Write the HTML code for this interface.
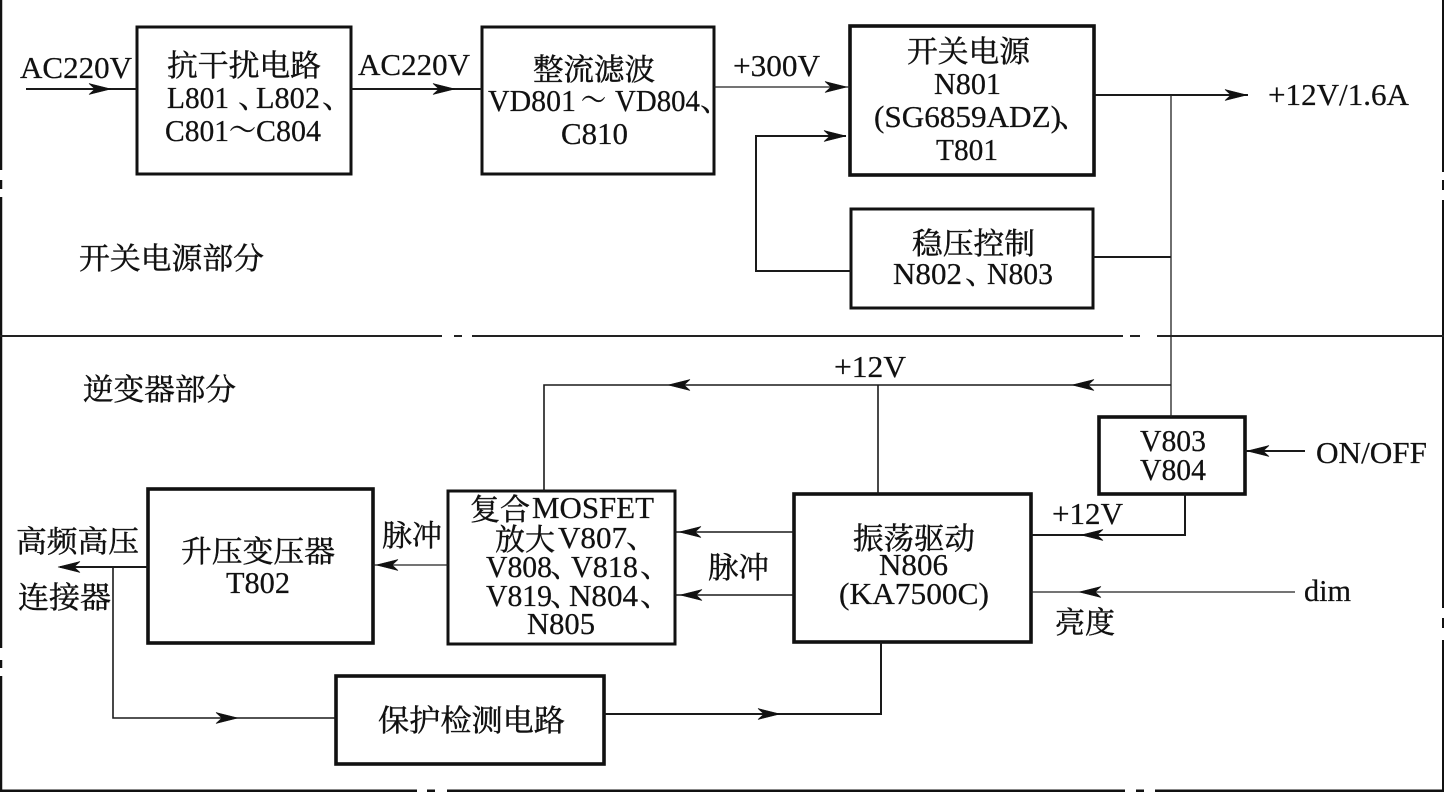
<!DOCTYPE html>
<html lang="zh">
<head>
<meta charset="utf-8">
<style>
html,body{margin:0;padding:0;background:#fff;width:1444px;height:792px;overflow:hidden}
svg{display:block}
text{font-family:"Liberation Serif","Noto Serif CJK SC",serif;font-size:31px;fill:#111;stroke:#111;stroke-width:.25}
.z{font-size:30px;stroke-width:.45}
.b{fill:none;stroke:#111;stroke-width:3}
.h{fill:none;stroke:#111;stroke-width:3.6}
.l{fill:none;stroke:#1a1a1a;stroke-width:2}
.t{fill:none;stroke:#222;stroke-width:1.3}
.a{fill:#111;stroke:#111;stroke-width:.6}
</style>
</head>
<body>
<svg width="1444" height="792" viewBox="0 0 1444 792" xmlns="http://www.w3.org/2000/svg">
<defs><path id="ah" d="M0 0L-22 -5.5L-16 0L-22 5.5Z"/></defs>

<!-- frame -->
<path d="M1 0V170M1 180V189M1 197V648M1 660V668M1 676V792" fill="none" stroke="#111" stroke-width="2.5"/>
<path d="M1443 0V172M1443 180V190M1443 200V608M1443 618V628M1443 640V792" fill="none" stroke="#111" stroke-width="2"/>
<path d="M0 791H417M427 791H435M447 791H1125M1136 791H1144M1155 791H1444" fill="none" stroke="#111" stroke-width="3"/>
<path d="M0 336H442M454 336H462M472 336H1123M1130 336H1140M1157 336H1444" fill="none" stroke="#222" stroke-width="2"/>

<!-- boxes -->
<rect class="b" x="137" y="27" width="214" height="147"/>
<rect class="b" x="482" y="27" width="232" height="147"/>
<rect class="h" x="850" y="26" width="244" height="149"/>
<rect class="b" x="851" y="209" width="242" height="99"/>
<rect class="h" x="1099" y="417" width="146" height="77"/>
<rect class="h" x="794" y="494" width="237" height="148"/>
<rect class="b" x="448" y="491" width="227" height="153"/>
<rect class="h" x="148" y="489" width="225" height="154"/>
<rect class="h" x="336" y="676" width="268" height="88"/>

<!-- connectors -->
<path class="l" d="M26 89H137M351 89H482"/>
<path class="t" d="M714 87H850"/>
<path class="l" d="M851 271H756V136H846"/>
<path class="l" d="M1094 95H1248M1093 257H1171"/>
<path class="t" d="M1171 95V417"/>
<path class="l" style="stroke-width:1.6" d="M1171 385H544V491M878 385V494"/>
<path class="l" d="M1245 451H1305M1185 494V535H1031"/>
<path class="t" d="M1031 592H1295"/>
<path class="l" style="stroke-width:1.6" d="M794 532H675M794 595H675"/>
<path class="t" d="M448 565H373"/>
<path class="l" d="M148 567H60"/>
<path class="l" style="stroke-width:1.6" d="M113 567V718H336"/>
<path class="l" d="M604 714H881V642"/>

<!-- arrowheads -->
<use class="a" href="#ah" transform="translate(111,89)"/>
<use class="a" href="#ah" transform="translate(455,89)"/>
<use class="a" href="#ah" transform="translate(847,87)"/>
<use class="a" href="#ah" transform="translate(846,136)"/>
<use class="a" href="#ah" transform="translate(1247,95)"/>
<use class="a" href="#ah" transform="translate(1072,385) rotate(180)"/>
<use class="a" href="#ah" transform="translate(668,385) rotate(180)"/>
<use class="a" href="#ah" transform="translate(1247,451) rotate(180)"/>
<use class="a" href="#ah" transform="translate(1081,535) rotate(180)"/>
<use class="a" href="#ah" transform="translate(1079,592) rotate(180)"/>
<use class="a" href="#ah" transform="translate(679,532) rotate(180)"/>
<use class="a" href="#ah" transform="translate(680,595) rotate(180)"/>
<use class="a" href="#ah" transform="translate(376,565) rotate(180)"/>
<use class="a" href="#ah" transform="translate(58,567) rotate(180)"/>
<use class="a" href="#ah" transform="translate(238,718)"/>
<use class="a" href="#ah" transform="translate(780,714)"/>

<!-- labels -->
<text x="20" y="78" textLength="112" lengthAdjust="spacingAndGlyphs">AC220V</text>
<text x="358" y="75" textLength="112" lengthAdjust="spacingAndGlyphs">AC220V</text>
<text x="733" y="76" textLength="87" lengthAdjust="spacingAndGlyphs">+300V</text>
<text x="1268" y="105" textLength="141" lengthAdjust="spacingAndGlyphs">+12V/1.6A</text>

<text class="z" x="167" y="76" textLength="154" lengthAdjust="spacingAndGlyphs">抗干扰电路</text>
<text x="167" y="108" textLength="62" lengthAdjust="spacingAndGlyphs">L801</text>
<text x="238" y="108">、</text>
<text x="256" y="108" textLength="64" lengthAdjust="spacingAndGlyphs">L802</text>
<text x="322" y="108">、</text>
<text x="165" y="141" textLength="64" lengthAdjust="spacingAndGlyphs">C801</text>
<text x="229" y="141" textLength="27" lengthAdjust="spacingAndGlyphs">～</text>
<text x="256" y="141" textLength="65" lengthAdjust="spacingAndGlyphs">C804</text>

<text class="z" x="533" y="80" textLength="122" lengthAdjust="spacingAndGlyphs">整流滤波</text>
<text x="488" y="111" textLength="88" lengthAdjust="spacingAndGlyphs">VD801</text>
<text x="581" y="111" textLength="25" lengthAdjust="spacingAndGlyphs">～</text>
<text x="615" y="111" textLength="85" lengthAdjust="spacingAndGlyphs">VD804</text>
<text x="700" y="111">、</text>
<text x="561" y="144" textLength="67" lengthAdjust="spacingAndGlyphs">C810</text>

<text class="z" x="907" y="62" textLength="123" lengthAdjust="spacingAndGlyphs">开关电源</text>
<text x="934" y="94" textLength="67" lengthAdjust="spacingAndGlyphs">N801</text>
<text x="874" y="127" textLength="187" lengthAdjust="spacingAndGlyphs">(SG6859ADZ)</text>
<text x="1058" y="127">、</text>
<text x="936" y="160" textLength="62" lengthAdjust="spacingAndGlyphs">T801</text>

<text class="z" x="912" y="254" textLength="123" lengthAdjust="spacingAndGlyphs">稳压控制</text>
<text x="893" y="284" textLength="69" lengthAdjust="spacingAndGlyphs">N802</text>
<text x="965" y="284">、</text>
<text x="987" y="284" textLength="66" lengthAdjust="spacingAndGlyphs">N803</text>

<text class="z" x="79" y="269" textLength="185" lengthAdjust="spacingAndGlyphs">开关电源部分</text>
<text class="z" x="83" y="400" textLength="153" lengthAdjust="spacingAndGlyphs">逆变器部分</text>

<text x="834" y="377" textLength="72" lengthAdjust="spacingAndGlyphs">+12V</text>

<text x="1140" y="451" textLength="66" lengthAdjust="spacingAndGlyphs">V803</text>
<text x="1140" y="480" textLength="66" lengthAdjust="spacingAndGlyphs">V804</text>
<text x="1316" y="463" textLength="111" lengthAdjust="spacingAndGlyphs">ON/OFF</text>
<text x="1052" y="524" textLength="71" lengthAdjust="spacingAndGlyphs">+12V</text>
<text x="1304" y="601" textLength="47" lengthAdjust="spacingAndGlyphs">dim</text>
<text class="z" x="1055" y="633" textLength="60" lengthAdjust="spacingAndGlyphs">亮度</text>

<text class="z" x="853" y="549" textLength="122" lengthAdjust="spacingAndGlyphs">振荡驱动</text>
<text x="879" y="575" textLength="69" lengthAdjust="spacingAndGlyphs">N806</text>
<text x="839" y="604" textLength="150" lengthAdjust="spacingAndGlyphs">(KA7500C)</text>

<text class="z" x="708" y="578" textLength="61" lengthAdjust="spacingAndGlyphs">脉冲</text>
<text class="z" x="382" y="546" textLength="60" lengthAdjust="spacingAndGlyphs">脉冲</text>

<text class="z" x="470" y="520" textLength="60" lengthAdjust="spacingAndGlyphs">复合</text>
<text x="532" y="518" textLength="122" lengthAdjust="spacingAndGlyphs">MOSFET</text>
<text class="z" x="495" y="550" textLength="60" lengthAdjust="spacingAndGlyphs">放大</text>
<text x="558" y="548" textLength="69" lengthAdjust="spacingAndGlyphs">V807</text>
<text x="626" y="548">、</text>
<text x="486" y="577" textLength="66" lengthAdjust="spacingAndGlyphs">V808</text>
<text x="550" y="577">、</text>
<text x="571" y="577" textLength="67" lengthAdjust="spacingAndGlyphs">V818</text>
<text x="640" y="577">、</text>
<text x="486" y="606" textLength="66" lengthAdjust="spacingAndGlyphs">V819</text>
<text x="550" y="606">、</text>
<text x="569" y="606" textLength="69" lengthAdjust="spacingAndGlyphs">N804</text>
<text x="640" y="606">、</text>
<text x="527" y="634" textLength="68" lengthAdjust="spacingAndGlyphs">N805</text>

<text class="z" x="181" y="562" textLength="154" lengthAdjust="spacingAndGlyphs">升压变压器</text>
<text x="226" y="593" textLength="64" lengthAdjust="spacingAndGlyphs">T802</text>

<text class="z" x="16" y="552" textLength="123" lengthAdjust="spacingAndGlyphs">高频高压</text>
<text class="z" x="18" y="608" textLength="93" lengthAdjust="spacingAndGlyphs">连接器</text>

<text class="z" x="378" y="731" textLength="187" lengthAdjust="spacingAndGlyphs">保护检测电路</text>
</svg>
</body>
</html>
